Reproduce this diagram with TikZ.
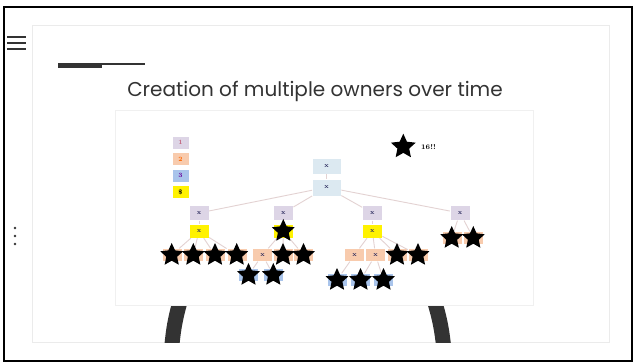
\documentclass[tikz,border=0pt]{standalone}
\usepackage{fontspec}
\newfontfamily\titlefont{Poppins}
\usetikzlibrary{shapes.geometric}
\definecolor{lav}{HTML}{DDD5E6}
\definecolor{peach}{HTML}{F8CBAD}
\definecolor{skyb}{HTML}{A9C4EB}
\definecolor{rootc}{HTML}{DCE9F1}
\definecolor{linkc}{HTML}{E3D2D2}
\definecolor{ink}{HTML}{333333}
\definecolor{numc}{HTML}{C0607A}

\begin{document}
\begin{tikzpicture}[x=1pt, y=-1pt,
    box/.style={draw=white, line width=0.3pt, minimum width=20pt, minimum height=13pt, inner sep=0pt, text=ink!80!blue, font=\fontsize{6.5}{6.5}\selectfont\bfseries},
    lavbox/.style={box, fill=lav, minimum height=15pt},
    yelbox/.style={box, fill=yellow, minimum height=14pt},
    peachbox/.style={box, fill=peach},
    bluebox/.style={box, fill=skyb},
    rootbox/.style={box, fill=rootc, minimum width=29pt, minimum height=16pt},
    keybox/.style={box, minimum width=17pt, minimum height=13pt, text=numc},
    blackstar/.style={star, star points=5, star point ratio=2.1, fill=black, draw=none, minimum size=24pt, inner sep=0pt},
    link/.style={draw=linkc, line width=0.9pt}]
  \useasboundingbox (0,0) rectangle (634,363);
  \fill[white] (0,0) rectangle (634,363);
  \draw[line width=2.2pt] (4,7) rectangle (632,361);
  \draw[draw=black!8, fill=white, line width=1pt] (32.5,26) rectangle (609,342.5);
  \begin{scope}
    \clip (0,305) rectangle (634,342);
    \draw[ink, line width=15pt] (182,295) to[bend right=6] (171.5,350);
    \draw[ink, line width=15pt] (432.5,295) to[bend left=6] (444,350);
  \end{scope}
  \draw[draw=black!6, fill=white, line width=0.8pt] (115,110) rectangle (533,305);
  \foreach \y in {36.7,42.8,49} \draw[ink, line width=2pt] (7,\y) -- (26,\y);
  \foreach \y in {228,236,244} \fill[ink] (15,\y) circle (1.3pt);
  \fill[ink] (58,63) rectangle (102,68);
  \fill[ink] (102,63) rectangle (145,65);
  \node[font=\titlefont\fontsize{20}{20}\selectfont, text=ink] (title) at (315,91) {Creation of multiple owners over time};

  \node[keybox, fill=lav] (k1) at (180.5,142.5) {1};
  \node[keybox, fill=peach, text=orange!80!red] (k2) at (180.5,159) {2};
  \node[keybox, fill=skyb, text=blue!60!red] (k3) at (180.5,175.5) {3};
  \node[keybox, fill=yellow, text=black] (k4) at (180.5,192) {\$};
  \node[blackstar, minimum size=26pt] (kstar) at (403.3,146.7) {};
  \node[anchor=west, inner sep=0pt, font=\fontsize{7}{7}\selectfont\bfseries] (ktext) at (421,146.7) {16!!};

  \node[rootbox] (r1) at (326.7,166) {x};
  \node[rootbox, minimum height=17pt] (r2) at (326.7,187.3) {x};
  \node[lavbox] (pa) at (199,213) {x};
  \node[lavbox] (pb) at (283.3,213) {x};
  \node[lavbox] (pc) at (372.3,213) {x};
  \node[lavbox] (pd) at (460,213) {x};
  \node[yelbox] (ya) at (199,231) {x};
  \node[yelbox] (yb) at (283.3,231) {};
  \node[yelbox] (yc) at (372.3,231) {x};
  \node[peachbox] (a1) at (171.7,255) {};
  \node[peachbox] (a2) at (193.3,255) {};
  \node[peachbox] (a3) at (215,255) {};
  \node[peachbox] (a4) at (236.7,255) {};
  \node[peachbox] (b1) at (262.5,255) {x};
  \node[peachbox] (b2) at (283,255) {};
  \node[peachbox] (b3) at (303.5,255) {};
  \node[bluebox] (bb1) at (248.5,275) {};
  \node[bluebox] (bb2) at (273.3,275) {};
  \node[peachbox] (c1) at (354.5,255) {x};
  \node[peachbox] (c2) at (375.5,255) {x};
  \node[peachbox] (c3) at (397,255) {};
  \node[peachbox] (c4) at (418,255) {};
  \node[bluebox] (cc1) at (337,280) {};
  \node[bluebox] (cc2) at (360.5,280) {};
  \node[bluebox] (cc3) at (383.5,280) {};
  \node[peachbox] (d1) at (451.7,238) {};
  \node[peachbox] (d2) at (473.3,238) {};

  \draw[link] (r1) -- (r2);
  \draw[link] (r2) -- (pa);
  \draw[link] (r2) -- (pb);
  \draw[link] (r2) -- (pc);
  \draw[link] (r2) -- (pd);
  \draw[link] (pa) -- (ya);
  \draw[link] (pb) -- (yb);
  \draw[link] (pc) -- (yc);
  \draw[link] (ya) -- (a1);
  \draw[link] (ya) -- (a2);
  \draw[link] (ya) -- (a3);
  \draw[link] (ya) -- (a4);
  \draw[link] (yb) -- (b1);
  \draw[link] (yb) -- (b2);
  \draw[link] (yb) -- (b3);
  \draw[link] (b1) -- (bb1);
  \draw[link] (b1) -- (bb2);
  \draw[link] (yc) -- (c1);
  \draw[link] (yc) -- (c2);
  \draw[link] (yc) -- (c3);
  \draw[link] (yc) -- (c4);
  \draw[link] (c1) -- (cc1);
  \draw[link] (c2) -- (cc2);
  \draw[link] (c2) -- (cc3);
  \draw[link] (pd) -- (d1);
  \draw[link] (pd) -- (d2);

  \node[blackstar] (syb) at (yb) {};
  \node[blackstar] (sa1) at (a1) {};
  \node[blackstar] (sa2) at (a2) {};
  \node[blackstar] (sa3) at (a3) {};
  \node[blackstar] (sa4) at (a4) {};
  \node[blackstar] (sb2) at (b2) {};
  \node[blackstar] (sb3) at (b3) {};
  \node[blackstar] (sbb1) at (bb1) {};
  \node[blackstar] (sbb2) at (bb2) {};
  \node[blackstar] (sc3) at (c3) {};
  \node[blackstar] (sc4) at (c4) {};
  \node[blackstar] (scc1) at (cc1) {};
  \node[blackstar] (scc2) at (cc2) {};
  \node[blackstar] (scc3) at (cc3) {};
  \node[blackstar] (sd1) at (d1) {};
  \node[blackstar] (sd2) at (d2) {};
\end{tikzpicture}
\end{document}
